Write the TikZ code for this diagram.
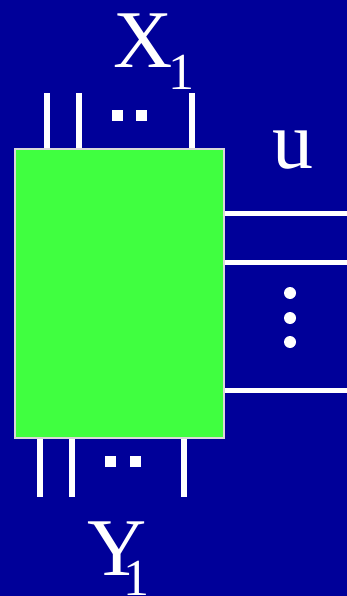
\documentclass[tikz,border=0pt]{standalone}
\usepackage{fontspec}
\setmainfont{Liberation Serif}
\usetikzlibrary{positioning}
\definecolor{slide}{HTML}{000099}
\definecolor{blkgreen}{HTML}{40FF40}
\newcommand{\lowsub}[2]{\raisebox{-#1}{\fontsize{52}{52}\selectfont #2}}

\begin{document}
\begin{tikzpicture}[x=1pt, y=-1pt,
    pin/.style={draw=white, line width=5.5pt},
    big/.style={text=white, inner sep=0pt, anchor=base west, font=\fontsize{82}{82}\selectfont},
    sq/.style={fill=white, minimum size=11pt, inner sep=0pt},
    dot/.style={fill=white, circle, minimum size=12pt, inner sep=0pt}]
  \fill[slide] (0,0) rectangle (347,596);
  \useasboundingbox (0,0) rectangle (347,596);

  % the block
  \node[draw=white!85!black, line width=1.2pt, fill=blkgreen, inner sep=0pt,
        minimum width=209pt, minimum height=289pt] (blk) at (119.5,293.5) {};

  % inputs on top
  \foreach \n/\x in {1/47,2/79,3/192} {
    \coordinate (t\n) at (\x,93);
    \draw[pin] (t\n |- blk.north) -- (t\n);
  }
  \node[sq] (td1) at (117.5,115.5) {};
  \node[sq] (td2) at (141.5,115.5) {};
  \node[big] (xl) at (113,68) {X\kern-4pt\lowsub{22pt}{1}};

  % outputs below
  \foreach \n/\x in {1/40,2/72,3/184} {
    \coordinate (b\n) at (\x,497);
    \draw[pin] (b\n |- blk.south) -- (b\n);
  }
  \node[sq] (bd1) at (110.5,461) {};
  \node[sq] (bd2) at (135.5,461) {};
  \node[big] (yl) at (87,575) {Y\kern-23pt\lowsub{20pt}{1}};

  % controls on the right
  \foreach \n/\y in {1/213.5,2/262,3/390} {
    \coordinate (r\n) at (347,\y);
    \draw[draw=white, line width=5pt] (blk.east |- r\n) -- (r\n);
  }
  \node[dot] (rd1) at (290,293) {};
  \node[dot] (rd2) at (290,318) {};
  \node[dot] (rd3) at (290,342) {};
  \node[big] (ul) at (272,168) {u};
\end{tikzpicture}
\end{document}
